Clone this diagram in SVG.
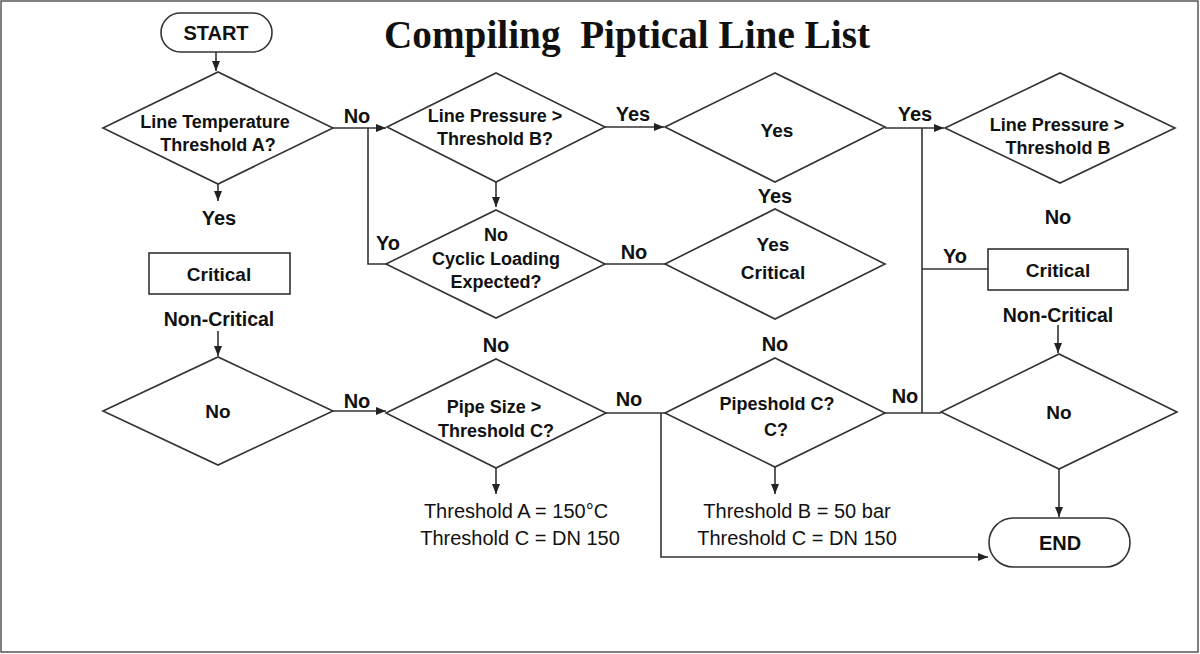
<svg xmlns="http://www.w3.org/2000/svg" width="1200" height="654" viewBox="0 0 1200 654">
<style>
.shape{fill:#fff;stroke:#333;stroke-width:1.6}
.ln{fill:none;stroke:#333;stroke-width:1.6}
.t{font-family:"Liberation Sans",Arial,sans-serif;font-weight:bold;font-size:18px;fill:#111;text-anchor:middle}
.lb{font-family:"Liberation Sans",Arial,sans-serif;font-weight:bold;font-size:20px;fill:#111;text-anchor:middle}
.nt{font-family:"Liberation Sans",Arial,sans-serif;font-size:20px;fill:#111;text-anchor:middle}
.ttl{font-family:"Liberation Serif","Times New Roman",serif;font-weight:bold;font-size:40px;fill:#111}
</style>
<defs>
<marker id="ah" markerWidth="10" markerHeight="8" refX="10" refY="4" orient="auto" markerUnits="userSpaceOnUse">
<path d="M0,0 L10,4 L0,8 Z" fill="#222"/>
</marker>
</defs>
<rect x="0" y="0" width="1200" height="654" fill="#fff"/>
<rect x="1" y="1" width="1197" height="651" fill="none" stroke="#555" stroke-width="1.5"/>
<text class="ttl" x="384" y="48" xml:space="preserve" textLength="486" lengthAdjust="spacingAndGlyphs">Compiling  Piptical Line List</text>

<g id="connectors">
<path class="ln" d="M216,52 V71" marker-end="url(#ah)"/>
<path class="ln" d="M333,128 H386" marker-end="url(#ah)"/>
<path class="ln" d="M368,128 V264 H387"/>
<path class="ln" d="M605,127 H664" marker-end="url(#ah)"/>
<path class="ln" d="M496,182 V207" marker-end="url(#ah)"/>
<path class="ln" d="M605,264 H665"/>
<path class="ln" d="M885,128 H944" marker-end="url(#ah)"/>
<path class="ln" d="M922,128 V413"/>
<path class="ln" d="M922,269 H988"/>
<path class="ln" d="M1058,325 V353" marker-end="url(#ah)"/>
<path class="ln" d="M1059,469 V517" marker-end="url(#ah)"/>
<path class="ln" d="M218,184 V201" marker-end="url(#ah)"/>
<path class="ln" d="M218,331 V356" marker-end="url(#ah)"/>
<path class="ln" d="M333,411 H386" marker-end="url(#ah)"/>
<path class="ln" d="M496,468 V494" marker-end="url(#ah)"/>
<path class="ln" d="M606,413 H665"/>
<path class="ln" d="M661,413 V557 H988" marker-end="url(#ah)"/>
<path class="ln" d="M775,467 V494" marker-end="url(#ah)"/>
<path class="ln" d="M885,413 H941"/>
<text class="lb" x="357" y="123">No</text>
<text class="lb" x="388" y="250">Yo</text>
<text class="lb" x="633" y="121">Yes</text>
<text class="lb" x="634" y="259">No</text>
<text class="lb" x="915" y="121">Yes</text>
<text class="lb" x="955" y="263">Yo</text>
<text class="lb" x="357" y="408">No</text>
<text class="lb" x="629" y="406">No</text>
<text class="lb" x="905" y="403">No</text>
<text class="lb" x="219" y="225">Yes</text>
<text class="lb" x="775" y="203">Yes</text>
<text class="lb" x="1058" y="224">No</text>
<text class="lb" x="496" y="352">No</text>
<text class="lb" x="775" y="351">No</text>
<text class="t" x="219" y="326" style="font-size:19.5px">Non-Critical</text>
<text class="t" x="1058" y="322" style="font-size:19.5px">Non-Critical</text>
<text class="nt" x="516" y="518">Threshold A = 150°C</text>
<text class="nt" x="520" y="545">Threshold C = DN 150</text>
<text class="nt" x="797" y="518">Threshold B = 50 bar</text>
<text class="nt" x="797" y="545">Threshold C = DN 150</text>
</g>

<g id="start">
<rect class="shape" x="161" y="13" width="111" height="39" rx="19.5"/>
<text class="t" x="216" y="40" style="font-size:20px">START</text>
</g>
<g id="d-temp">
<polygon class="shape" points="103,128 218,72 333,128 218,184"/>
<text class="t" x="215" y="128">Line Temperature</text>
<text class="t" x="218" y="151">Threshold A?</text>
</g>
<g id="d-pressure">
<polygon class="shape" points="387,127 496,73 605,127 496,182"/>
<text class="t" x="495" y="122">Line Pressure &gt;</text>
<text class="t" x="495" y="145">Threshold B?</text>
</g>
<g id="d-cyclic">
<polygon class="shape" points="386,264 496,210 605,264 496,318"/>
<text class="t" x="496" y="241">No</text>
<text class="t" x="496" y="265">Cyclic Loading</text>
<text class="t" x="496" y="288">Expected?</text>
</g>
<g id="d-yes">
<polygon class="shape" points="665,127 775,73 885,127 775,182"/>
<text class="t" x="777" y="137" style="font-size:19px">Yes</text>
</g>
<g id="d-yes-critical">
<polygon class="shape" points="665,264 775,209 885,264 775,319"/>
<text class="t" x="773" y="251" style="font-size:19px">Yes</text>
<text class="t" x="773" y="279" style="font-size:19px">Critical</text>
</g>
<g id="d-pressure2">
<polygon class="shape" points="945,128 1060,73 1175,128 1060,183"/>
<text class="t" x="1057" y="131">Line Pressure &gt;</text>
<text class="t" x="1058" y="154">Threshold B</text>
</g>
<g id="critical-right">
<rect class="shape" x="988" y="249" width="140" height="41"/>
<text class="t" x="1058" y="277" style="font-size:19px">Critical</text>
</g>
<g id="critical-left">
<rect class="shape" x="149" y="253" width="141" height="41"/>
<text class="t" x="219" y="281" style="font-size:19px">Critical</text>
</g>
<g id="d-no-left">
<polygon class="shape" points="103,411 218,357 333,411 218,465"/>
<text class="t" x="218" y="418" style="font-size:19px">No</text>
</g>
<g id="d-pipesize">
<polygon class="shape" points="386,413 496,359 606,413 496,468"/>
<text class="t" x="494" y="413">Pipe Size &gt;</text>
<text class="t" x="496" y="437">Threshold C?</text>
</g>
<g id="d-pipeshold">
<polygon class="shape" points="665,413 775,358 885,413 775,467"/>
<text class="t" x="777" y="410">Pipeshold C?</text>
<text class="t" x="776" y="436">C?</text>
</g>
<g id="d-no-right">
<polygon class="shape" points="941,412 1059,354 1177,412 1059,469"/>
<text class="t" x="1059" y="419" style="font-size:19px">No</text>
</g>
<g id="end">
<rect class="shape" x="989" y="518" width="141" height="49" rx="24.5"/>
<text class="t" x="1060" y="550" style="font-size:20px">END</text>
</g>
</svg>
